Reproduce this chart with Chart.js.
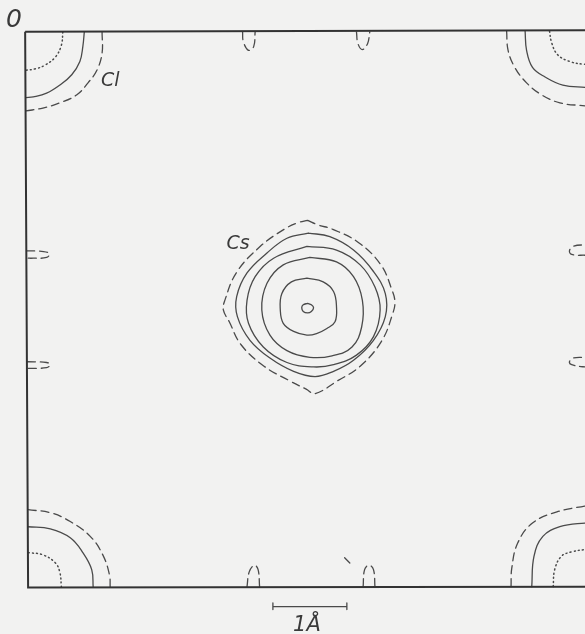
<!DOCTYPE html>
<html>
<head>
<meta charset="utf-8">
<title>CsCl contour map</title>
<script src="https://cdn.jsdelivr.net/npm/chart.js@4/dist/chart.umd.min.js"></script>
<style>
    html, body { margin: 0; padding: 0; background: #f2f2f1; overflow: hidden; }
    #wrap { width: 585px; height: 634px; position: relative; }
</style>
</head>
<body>
<div id="wrap"><canvas id="mapChart"></canvas></div>
<script>
// Plot ranges in Å (origin at the Cl atom, top-left corner; y grows downward)
const xRange = [-0.34, 7.57];
const yRange = [-0.42, 8.15];

// Cell outline
const frame = [[0.00, 0.01], [7.77, -0.01], [7.77, 7.51], [0.04, 7.52], [0.00, 0.01]];

// Cl contours at the four corners
const clTopLeftDot = [[0.51, 0.01], [0.49, 0.19], [0.41, 0.35], [0.27, 0.46], [0.14, 0.51], [0.01, 0.53]];
const clTopLeftSolid = [[0.80, 0.01], [0.78, 0.21], [0.74, 0.41], [0.63, 0.59], [0.47, 0.73], [0.29, 0.84], [0.11, 0.89], [0.01, 0.90]];
const clTopLeftDash = [[1.04, 0.01], [1.04, 0.30], [0.97, 0.53], [0.85, 0.70], [0.70, 0.86], [0.47, 0.97], [0.24, 1.04], [0.01, 1.08]];

const clTopRightDash = [[6.51, 0.00], [6.53, 0.26], [6.62, 0.49], [6.78, 0.70], [6.98, 0.86], [7.23, 0.97], [7.57, 1.01], [7.77, 1.03]];
const clTopRightSolid = [[6.76, 0.00], [6.78, 0.26], [6.86, 0.49], [7.03, 0.62], [7.27, 0.73], [7.57, 0.76], [7.77, 0.77]];
const clTopRightDot = [[7.09, 0.00], [7.12, 0.16], [7.20, 0.32], [7.36, 0.41], [7.57, 0.45], [7.77, 0.45]];

const clBottomLeftDash = [[0.04, 6.47], [0.34, 6.51], [0.61, 6.63], [0.88, 6.83], [1.05, 7.08], [1.14, 7.35], [1.15, 7.52]];
const clBottomLeftSolid = [[0.04, 6.70], [0.34, 6.73], [0.61, 6.85], [0.78, 7.05], [0.90, 7.28], [0.92, 7.52]];
const clBottomLeftDot = [[0.04, 7.05], [0.24, 7.08], [0.41, 7.19], [0.47, 7.32], [0.49, 7.51]];

const clBottomRightDash = [[6.57, 7.51], [6.58, 7.26], [6.66, 6.92], [6.86, 6.65], [7.19, 6.50], [7.57, 6.42], [7.77, 6.39]];
const clBottomRightSolid = [[6.85, 7.51], [6.88, 7.10], [7.00, 6.83], [7.23, 6.70], [7.57, 6.65], [7.77, 6.64]];
const clBottomRightDot = [[7.14, 7.51], [7.16, 7.28], [7.25, 7.10], [7.39, 7.04], [7.57, 7.01], [7.77, 7.01]];

// Cs contours at the cell centre, innermost first
const csPeak = [[3.82, 3.68], [3.87, 3.70], [3.90, 3.74], [3.87, 3.79], [3.82, 3.81], [3.76, 3.79], [3.74, 3.74], [3.76, 3.70], [3.82, 3.68]];
const csLevel2 = [[3.81, 3.34], [4.03, 3.39], [4.17, 3.52], [4.21, 3.73], [4.19, 3.93], [4.08, 4.02], [3.94, 4.09], [3.81, 4.11], [3.63, 4.06], [3.49, 3.95], [3.45, 3.77], [3.47, 3.55], [3.60, 3.39], [3.81, 3.34]];
const csLevel3 = [[3.85, 3.06], [4.21, 3.12], [4.44, 3.32], [4.56, 3.64], [4.55, 4.00], [4.42, 4.27], [4.15, 4.39], [3.85, 4.41], [3.54, 4.32], [3.31, 4.11], [3.20, 3.77], [3.27, 3.41], [3.49, 3.16], [3.85, 3.06]];
const csLevel4 = [[3.81, 2.91], [4.21, 2.96], [4.53, 3.16], [4.73, 3.46], [4.80, 3.77], [4.71, 4.13], [4.48, 4.38], [4.17, 4.51], [3.90, 4.54], [3.54, 4.48], [3.22, 4.27], [3.02, 3.95], [3.00, 3.64], [3.11, 3.32], [3.36, 3.07], [3.81, 2.91]];
const csLevel5 = [[3.83, 2.73], [4.12, 2.78], [4.44, 2.96], [4.71, 3.25], [4.87, 3.55], [4.87, 3.86], [4.71, 4.18], [4.44, 4.45], [4.17, 4.60], [3.92, 4.67], [3.63, 4.60], [3.31, 4.42], [3.04, 4.18], [2.87, 3.86], [2.86, 3.59], [3.00, 3.27], [3.27, 3.00], [3.54, 2.80], [3.83, 2.73]];
const csOuterDash = [[3.82, 2.56], [3.96, 2.62], [4.16, 2.68], [4.51, 2.86], [4.81, 3.16], [4.96, 3.50], [5.00, 3.66], [4.97, 3.82], [4.82, 4.19], [4.53, 4.53], [4.22, 4.73], [3.92, 4.90], [3.80, 4.84], [3.58, 4.73], [3.23, 4.53], [2.92, 4.24], [2.76, 3.93], [2.68, 3.77], [2.70, 3.64], [2.86, 3.26], [3.18, 2.91], [3.50, 2.68], [3.69, 2.59], [3.82, 2.56]];

// Small lobes along the cell edges
const lobeTop1 = [[2.94, 0.01], [2.95, 0.14], [3.02, 0.26], [3.09, 0.21], [3.11, 0.01]];
const lobeTop2 = [[4.48, 0.01], [4.50, 0.17], [4.56, 0.25], [4.63, 0.17], [4.66, 0.01]];
const lobeBottom1 = [[3.00, 7.51], [3.03, 7.31], [3.10, 7.22], [3.15, 7.28], [3.17, 7.51]];
const lobeBottom2 = [[4.57, 7.51], [4.59, 7.28], [4.65, 7.22], [4.71, 7.28], [4.73, 7.51]];
const lobeLeft1 = [[0.02, 2.97], [0.25, 2.98], [0.33, 3.01], [0.29, 3.06], [0.11, 3.07], [0.02, 3.07]];
const lobeLeft2 = [[0.03, 4.47], [0.29, 4.48], [0.34, 4.51], [0.29, 4.55], [0.03, 4.56]];
const lobeRight1 = [[7.70, 2.89], [7.57, 2.89], [7.41, 2.91], [7.36, 2.97], [7.39, 3.02], [7.57, 3.03], [7.70, 3.03]];
const lobeRight2 = [[7.70, 4.40], [7.57, 4.41], [7.41, 4.42], [7.36, 4.47], [7.39, 4.51], [7.57, 4.54], [7.70, 4.54]];
const strayMark = [[4.32, 7.12], [4.39, 7.19]];

// 1 Å scale bar below the map
const scaleBar = [[3.35, 7.73], [3.35, 7.82], [3.35, 7.78], [4.35, 7.78], [4.35, 7.73], [4.35, 7.82]];

// Text labels: [text, x, y, font size]
const labels = [
    ['0', -0.15, -0.14, 25],
    ['Cl', 1.15, 0.67, 19],
    ['Cs', 2.88, 2.88, 19],
    ['1Å', 3.81, 8.03, 21]
];

const ink = '#4a4a4a';

function toPoints(arr) {
    return arr.map(p => ({ x: p[0], y: p[1] }));
}

function line(arr, style, smooth = true) {
    const ds = {
        data: toPoints(arr),
        showLine: true,
        pointRadius: 0,
        borderColor: ink,
        borderWidth: 1.3,
        tension: smooth ? 0.4 : 0,
        borderCapStyle: 'round',
        borderJoinStyle: 'round'
    };
    if (style === 'dash') ds.borderDash = [8, 5];
    if (style === 'dot') {
        ds.borderDash = [1, 3.2];
        ds.borderWidth = 1.5;
    }
    if (style === 'frame') {
        ds.borderColor = '#333';
        ds.borderWidth = 2;
        ds.borderCapStyle = 'butt';
        ds.borderJoinStyle = 'miter';
    }
    return ds;
}

const datasets = [
    line(frame, 'frame', false),
    line(clTopLeftDot, 'dot'), line(clTopLeftSolid, 'solid'), line(clTopLeftDash, 'dash'),
    line(clTopRightDot, 'dot'), line(clTopRightSolid, 'solid'), line(clTopRightDash, 'dash'),
    line(clBottomLeftDot, 'dot'), line(clBottomLeftSolid, 'solid'), line(clBottomLeftDash, 'dash'),
    line(clBottomRightDot, 'dot'), line(clBottomRightSolid, 'solid'), line(clBottomRightDash, 'dash'),
    line(csPeak, 'solid'), line(csLevel2, 'solid'), line(csLevel3, 'solid'),
    line(csLevel4, 'solid'), line(csLevel5, 'solid'), line(csOuterDash, 'dash'),
    line(lobeTop1, 'dash'), line(lobeTop2, 'dash'),
    line(lobeBottom1, 'dash'), line(lobeBottom2, 'dash'),
    line(lobeLeft1, 'dash'), line(lobeLeft2, 'dash'),
    line(lobeRight1, 'dash'), line(lobeRight2, 'dash'),
    line(strayMark, 'solid', false),
    line(scaleBar, 'solid', false)
];

// Draw the atom names and scale label at data positions
const labelPlugin = {
    id: 'labels',
    afterDatasetsDraw(chart) {
        const ctx = chart.ctx;
        const xs = chart.scales.x;
        const ys = chart.scales.y;
        ctx.save();
        ctx.fillStyle = '#3a3a3a';
        ctx.textAlign = 'center';
        ctx.textBaseline = 'middle';
        labels.forEach(([text, x, y, size]) => {
            ctx.font = `italic 200 ${size}px "DejaVu Sans", sans-serif`;
            ctx.fillText(text, xs.getPixelForValue(x), ys.getPixelForValue(y));
        });
        ctx.restore();
    }
};

new Chart(document.getElementById('mapChart'), {
    type: 'scatter',
    data: { datasets: datasets },
    options: {
        responsive: true,
        maintainAspectRatio: false,
        animation: false,
        layout: { padding: 0 },
        scales: {
            x: { type: 'linear', min: xRange[0], max: xRange[1], display: false },
            y: { type: 'linear', min: yRange[0], max: yRange[1], reverse: true, display: false }
        },
        plugins: {
            legend: { display: false },
            tooltip: { enabled: false }
        }
    },
    plugins: [labelPlugin]
});
</script>
</body>
</html>
